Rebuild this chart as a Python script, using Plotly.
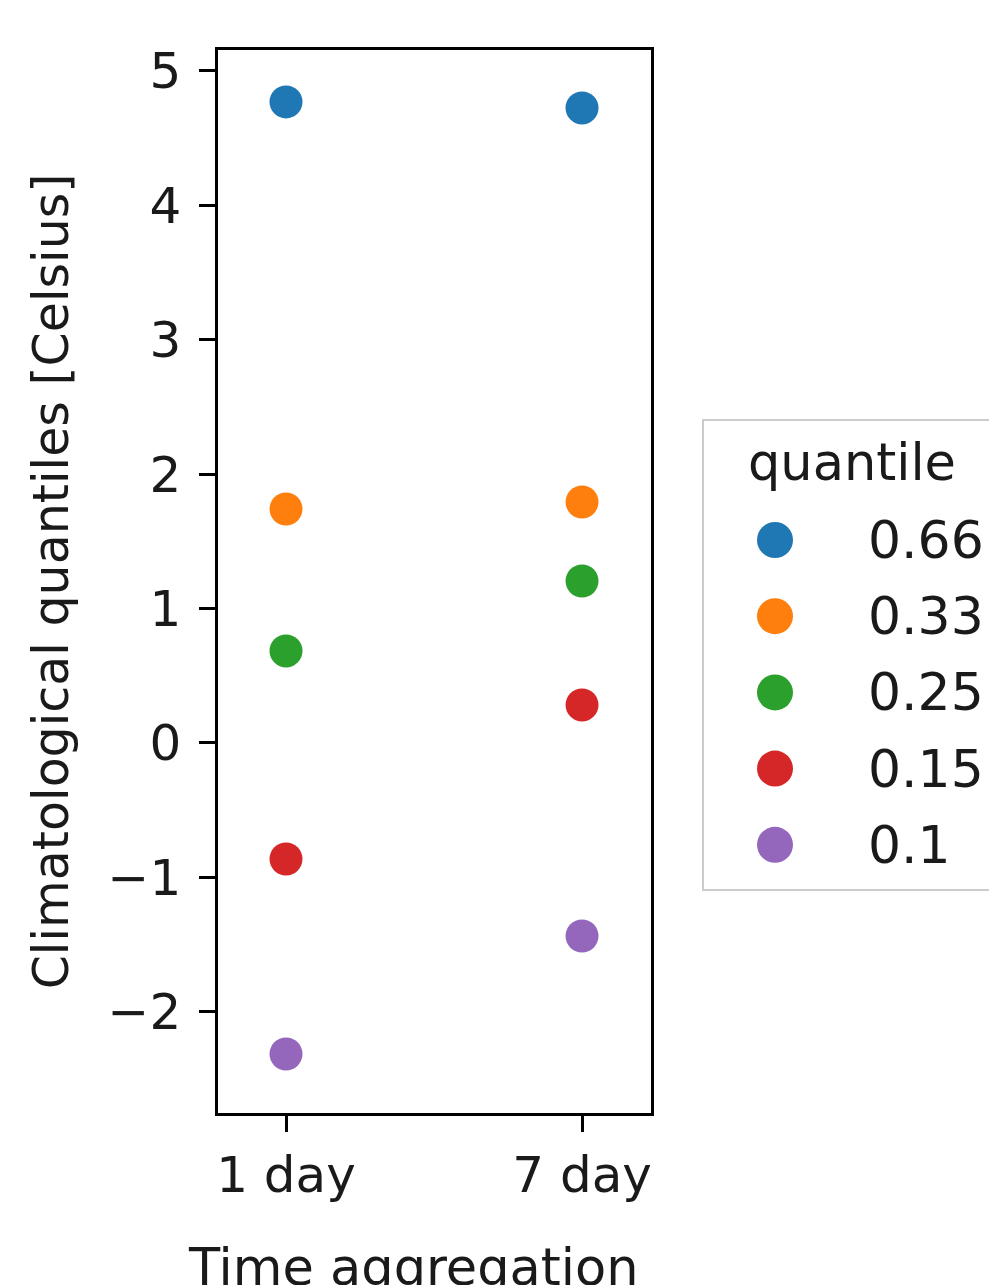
import plotly.graph_objects as go

categories = ["1 day", "7 day"]
quantiles = ["0.66", "0.33", "0.25", "0.15", "0.1"]
values = {
    "0.66": [4.77, 4.725],
    "0.33": [1.741, 1.793],
    "0.25": [0.685, 1.205],
    "0.15": [-0.863, 0.283],
    "0.1": [-2.314, -1.436],
}
colors = ["#1f77b4", "#ff7f0e", "#2ca02c", "#d62728", "#9467bd"]
y_ticks = [-2, -1, 0, 1, 2, 3, 4, 5]

FONT = "DejaVu Sans"
OFF = 8  # page body margin
W, H = 997 - OFF, 1285 - OFF
L, T = 218 - OFF, 50 - OFF
pw, ph = 433, 1063
R, B = W - L - pw, H - T - ph

def px2x(px):
    return (px - OFF - L) / pw

def py2y(py):
    return (T + ph - (py - OFF)) / ph

fig = go.Figure()
for q, c in zip(quantiles, colors):
    fig.add_trace(go.Scatter(
        x=categories, y=values[q], mode="markers", name=q,
        marker=dict(color=c, size=33, line=dict(width=0)),
        showlegend=False,
    ))

# custom legend (matplotlib style, large markers)
shapes = [dict(type="rect", xref="paper", yref="paper",
               x0=px2x(703), x1=px2x(1010), y0=py2y(890), y1=py2y(420),
               line=dict(color="#cccccc", width=2), fillcolor="white", layer="below")]
annotations = [dict(text="quantile", xref="paper", yref="paper",
                    x=px2x(746), y=py2y(462), xanchor="left", yanchor="middle",
                    showarrow=False, font=dict(family=FONT, size=51, color="#1a1a1a"))]
for i, (q, c) in enumerate(zip(quantiles, colors)):
    cy = 540 + 76.2 * i
    r = 18
    shapes.append(dict(type="circle", xref="paper", yref="paper",
                       x0=px2x(775 - r), x1=px2x(775 + r),
                       y0=py2y(cy + r), y1=py2y(cy - r),
                       fillcolor=c, line=dict(width=0)))
    annotations.append(dict(text=q, xref="paper", yref="paper",
                            x=px2x(866), y=py2y(cy), xanchor="left", yanchor="middle",
                            showarrow=False, font=dict(family=FONT, size=52, color="#1a1a1a")))

# x axis title (partly below the page edge, as in the reference)
annotations.append(dict(text="Time aggregation", xref="paper", yref="paper",
                        x=px2x(413), y=py2y(1236), xanchor="center", yanchor="top",
                        showarrow=False, font=dict(family=FONT, size=51, color="#1a1a1a")))

fig.update_layout(
    width=W, height=H,
    margin=dict(l=L, r=R, t=T, b=B, autoexpand=False),
    paper_bgcolor="white", plot_bgcolor="white",
    font=dict(family=FONT, size=50, color="#1a1a1a"),
    shapes=shapes, annotations=annotations,
    xaxis=dict(
        type="category", range=[-0.2297, 1.233],
        showline=True, linecolor="black", linewidth=2.5, mirror=True,
        ticks="outside", ticklen=16, tickwidth=2.5, tickcolor="black",
        showgrid=False, zeroline=False,
        tickfont=dict(family=FONT, size=50),
    ),
    yaxis=dict(
        range=[-2.753, 5.156], tickvals=y_ticks,
        showline=True, linecolor="black", linewidth=2.5, mirror=True,
        ticks="outside", ticklen=16, tickwidth=2.5, tickcolor="black",
        showgrid=False, zeroline=False, ticklabelstandoff=8,
        tickfont=dict(family=FONT, size=50),
        title=dict(text="Climatological quantiles [Celsius]", font=dict(family=FONT, size=49), standoff=24),
    ),
)

fig.write_html("out.html")
